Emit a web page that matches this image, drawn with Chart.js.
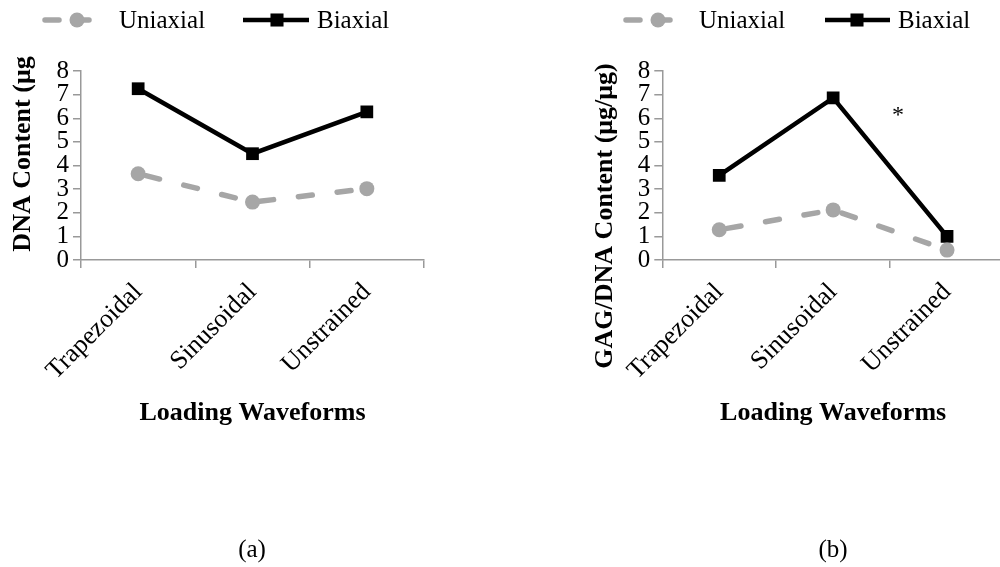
<!DOCTYPE html>
<html>
<head>
<meta charset="utf-8">
<script src="https://cdn.jsdelivr.net/npm/chart.js@4"></script>
<style>
  html, body { margin: 0; padding: 0; background: #fff; overflow: hidden; }
  body { width: 1000px; height: 567px; position: relative; font-family: "Liberation Serif", serif; }
  .panel { position: absolute; top: 0; height: 567px; }
  .cap { position: absolute; top: 535px; font-size: 25px; color: #000; transform: translateX(-50%); }
</style>
</head>
<body>
<div class="panel" id="pa" style="left:0;width:500px"><canvas id="chartA"></canvas></div>
<div class="panel" id="pb" style="left:500px;width:520px"><canvas id="chartB"></canvas></div>
<div class="cap" style="left:252px">(a)</div>
<div class="cap" style="left:833px">(b)</div>
<script>
// --- data ---
const waveforms = ['Trapezoidal', 'Sinusoidal', 'Unstrained'];
const yTicks = [0, 1, 2, 3, 4, 5, 6, 7, 8];

const dnaUniaxial = [3.65, 2.45, 3.02];
const dnaBiaxial = [7.25, 4.5, 6.27];

const gagUniaxial = [1.28, 2.12, 0.42];
const gagBiaxial = [3.58, 6.86, 1.0];

// significance mark on panel (b): [category position, value]
const gagStar = [1.57, 6.3];

const SERIF = '"Liberation Serif", "Times New Roman", serif';
const AXIS_GRAY = '#999999';

function makeDatasets(uni, bi) {
  return [
    {
      label: 'Uniaxial',
      data: uni,
      borderColor: '#a6a6a6',
      backgroundColor: '#a6a6a6',
      borderWidth: 5.5,
      borderDash: [14, 25],
      borderDashOffset: -8,
      borderCapStyle: 'round',
      pointStyle: 'circle',
      pointRadius: 7.5,
      pointBorderWidth: 0,
      tension: 0
    },
    {
      label: 'Biaxial',
      data: bi,
      borderColor: '#000000',
      backgroundColor: '#000000',
      borderWidth: 4.5,
      pointStyle: 'rect',
      pointRadius: 9,
      pointBorderWidth: 0,
      tension: 0
    }
  ];
}

// legend drawn like the Excel one: line sample with marker in the middle
const lineLegend = {
  id: 'lineLegend',
  afterDraw(chart, args, opts) {
    const ctx = chart.ctx;
    ctx.save();
    chart.data.datasets.forEach((ds, i) => {
      const item = opts.items[i];
      ctx.strokeStyle = ds.borderColor;
      ctx.lineWidth = ds.borderWidth;
      ctx.lineCap = ds.borderDash ? 'round' : 'butt';
      ctx.setLineDash(ds.borderDash ? [14, 16] : []);
      ctx.beginPath();
      ctx.moveTo(item.x0 + 3, opts.y);
      ctx.lineTo(item.x1 - 3, opts.y);
      ctx.stroke();
      ctx.setLineDash([]);
      ctx.fillStyle = ds.backgroundColor;
      const mx = item.m;
      if (ds.pointStyle === 'rect') {
        const s = ds.pointRadius * 1.45;
        ctx.fillRect(mx - s / 2, opts.y - s / 2, s, s);
      } else {
        ctx.beginPath();
        ctx.arc(mx, opts.y, ds.pointRadius, 0, Math.PI * 2);
        ctx.fill();
      }
      ctx.fillStyle = '#000';
      ctx.font = '25px ' + SERIF;
      ctx.textBaseline = 'middle';
      ctx.textAlign = 'left';
      ctx.fillText(ds.label, item.tx, opts.y + 1);
    });
    ctx.restore();
  }
};

// y title placed where Excel put it (not centred on the axis)
const yTitle = {
  id: 'yTitle',
  afterDraw(chart, args, opts) {
    const ctx = chart.ctx;
    ctx.save();
    ctx.translate(opts.cx, opts.cy);
    ctx.rotate(-Math.PI / 2);
    ctx.fillStyle = '#000';
    ctx.font = 'bold 26px ' + SERIF;
    ctx.textAlign = 'center';
    ctx.textBaseline = 'middle';
    ctx.fillText(opts.text, 0, 0);
    ctx.restore();
  }
};

const starMark = {
  id: 'starMark',
  afterDatasetsDraw(chart, args, opts) {
    if (!opts.at) return;
    const x = chart.scales.x.getPixelForValue(opts.at[0]);
    const y = chart.scales.y.getPixelForValue(opts.at[1]);
    const ctx = chart.ctx;
    ctx.save();
    ctx.fillStyle = '#000';
    ctx.font = '24px ' + SERIF;
    ctx.textAlign = 'center';
    ctx.textBaseline = 'middle';
    ctx.fillText('*', x, y + 5);
    ctx.restore();
  }
};

function makeChart(id, uni, bi, titleText, cfg) {
  return new Chart(document.getElementById(id), {
    type: 'line',
    data: { labels: waveforms, datasets: makeDatasets(uni, bi) },
    plugins: [lineLegend, yTitle, starMark],
    options: {
      responsive: true,
      maintainAspectRatio: false,
      animation: false,
      layout: { padding: { top: 71, left: cfg.padLeft, right: cfg.padRight, bottom: 134.4 } },
      plugins: {
        legend: { display: false },
        tooltip: { enabled: false },
        lineLegend: { y: 20, items: cfg.legend },
        yTitle: { text: titleText, cx: cfg.titleX, cy: cfg.titleY },
        starMark: { at: cfg.star }
      },
      scales: {
        x: {
          type: 'category',
          offset: true,
          afterFit: s => { s.height = 172.6; },
          grid: { offset: true, drawOnChartArea: false, drawTicks: true, tickLength: 8, color: AXIS_GRAY, lineWidth: 1.5 },
          border: { display: true, color: AXIS_GRAY, width: 1.5 },
          ticks: { color: '#000', font: { family: SERIF, size: 26 }, minRotation: 45, maxRotation: 45, padding: 9 },
          title: { display: true, text: 'Loading Waveforms', color: '#000', font: { family: SERIF, size: 26, weight: 'bold' } }
        },
        y: {
          min: 0,
          max: 8,
          afterFit: s => { s.width = cfg.yWidth; },
          afterBuildTicks: s => { s.ticks = yTicks.map(v => ({ value: v })); },
          grid: { drawOnChartArea: false, drawTicks: true, tickLength: 8, color: AXIS_GRAY, lineWidth: 1.5 },
          border: { display: true, color: AXIS_GRAY, width: 1.5 },
          ticks: { color: '#000', font: { family: SERIF, size: 25 }, padding: 4, autoSkip: false },
          title: { display: false }
        }
      }
    }
  });
}

makeChart('chartA', dnaUniaxial, dnaBiaxial, 'DNA Content (μg', {
  padLeft: 3.4, padRight: 76, yWidth: 77.6, star: null, titleX: 23, titleY: 154,
  legend: [{ x0: 42, x1: 105, m: 77, tx: 119 }, { x0: 240, x1: 312, m: 277, tx: 317 }]
});

makeChart('chartB', gagUniaxial, gagBiaxial, 'GAG/DNA Content (μg/μg)', {
  padLeft: 85.4, padRight: 16, yWidth: 76.9, star: gagStar, titleX: 105, titleY: 216,
  legend: [{ x0: 123, x1: 185, m: 158, tx: 199 }, { x0: 322, x1: 393, m: 357, tx: 398 }]
});
</script>
</body>
</html>
